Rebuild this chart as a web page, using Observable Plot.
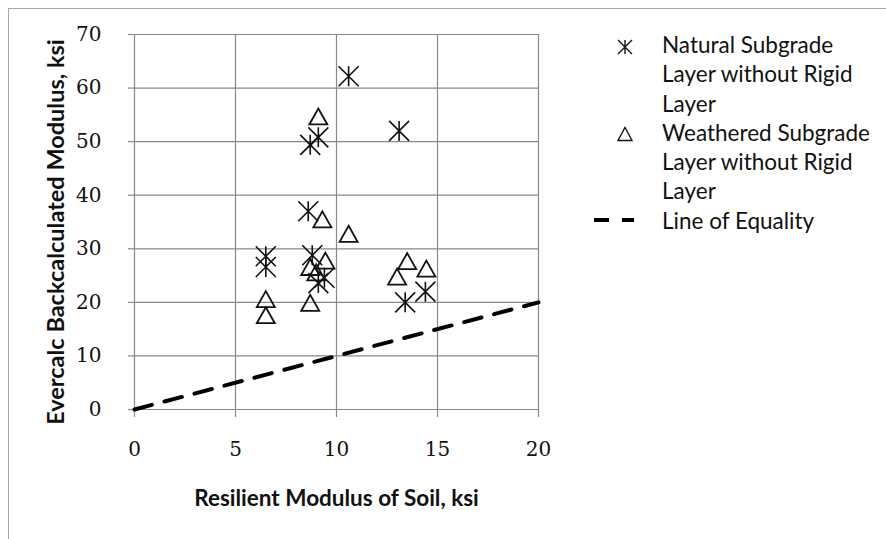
<!DOCTYPE html>
<html><head><meta charset="utf-8">
<script src="https://cdn.jsdelivr.net/npm/d3@7"></script>
<script src="https://cdn.jsdelivr.net/npm/@observablehq/plot@0.6"></script>
<style>
body{margin:0;background:#fff;}
#wrap{position:relative;width:886px;height:539px;overflow:hidden;background:#fff;}
#border{position:absolute;left:8px;top:8px;width:900px;height:600px;border-left:1px solid #a6a6a6;border-top:1px solid #a6a6a6;}
#chart{position:absolute;left:0;top:0;}
#legend{position:absolute;left:662px;top:30px;font-family:Lato, sans-serif;font-size:22.5px;line-height:29.3px;color:#111;}
.lsym{position:absolute;}
</style>
</head><body>
<div id="wrap"><div id="border"></div><div id="chart"></div><div id="legend"></div></div>
<script>
// ---- data ----
const naturalX = [10.6, 13.1, 8.7, 9.1, 8.6, 6.5, 6.5, 8.8, 9.1, 9.4, 13.4, 14.4];
const naturalY = [62.2, 52.0, 49.4, 50.8, 37.0, 28.6, 26.6, 28.8, 23.6, 24.6, 20.0, 22.0];
const weatheredX = [9.1, 9.3, 10.6, 8.7, 9.45, 9.0, 6.5, 6.5, 8.7, 13.5, 13.0, 14.45];
const weatheredY = [54.7, 35.5, 32.8, 26.6, 27.8, 25.6, 20.6, 17.6, 19.9, 27.7, 24.8, 26.3];
const equalityX = [0, 20];
const equalityY = [0, 20];
const xTicks = [0, 5, 10, 15, 20];
const yTicks = [0, 10, 20, 30, 40, 50, 60, 70];
const seriesNames = ["Natural Subgrade Layer without Rigid Layer", "Weathered Subgrade Layer without Rigid Layer", "Line of Equality"];
const legendLines = [["Natural Subgrade", "Layer without Rigid", "Layer"], ["Weathered Subgrade", "Layer without Rigid", "Layer"], ["Line of Equality"]];
const xTitle = "Resilient Modulus of Soil, ksi";
const yTitle = "Evercalc Backcalculated Modulus, ksi";

const natural = naturalX.map((x, i) => ({x, y: naturalY[i]}));
const weathered = weatheredX.map((x, i) => ({x, y: weatheredY[i]}));
const equality = equalityX.map((x, i) => ({x, y: equalityY[i]}));

// custom symbols (Excel-like star and open triangle)
function makeStar(r) { return {draw(ctx) { ctx.moveTo(0, -r); ctx.lineTo(0, r); ctx.moveTo(-r, -r); ctx.lineTo(r, r); ctx.moveTo(-r, r); ctx.lineTo(r, -r); }}; }
function makeTri(w, h) { return {draw(ctx) { ctx.moveTo(0, -h); ctx.lineTo(w, h); ctx.lineTo(-w, h); ctx.closePath(); }}; }
const starSym = makeStar(10);
const triSym = makeTri(9, 8);

const gridColor = "#898989";
const tickFont = "DejaVu Serif";
const chart = Plot.plot({
  width: 886, height: 539,
  marginLeft: 134, marginRight: 348, marginTop: 34, marginBottom: 130,
  x: {domain: [0, 20]},
  y: {domain: [0, 70]},
  style: {background: "transparent"},
  marks: [
    Plot.gridX(xTicks.slice(1), {stroke: gridColor, strokeOpacity: 1, strokeWidth: 1.2}),
    Plot.gridY(yTicks.slice(1), {stroke: gridColor, strokeOpacity: 1, strokeWidth: 1.2}),
    Plot.ruleX([0], {stroke: gridColor, strokeWidth: 1.2}),
    Plot.ruleY([0], {stroke: gridColor, strokeWidth: 1.2}),
    Plot.axisX(xTicks, {tickSize: 8, tickPadding: 24, fontSize: 20, fontFamily: tickFont, stroke: gridColor, strokeWidth: 1.2, fill: "#111", label: null}),
    Plot.axisY(yTicks, {tickSize: 6, tickPadding: 27, fontSize: 20, fontFamily: tickFont, stroke: gridColor, strokeWidth: 1.2, fill: "#111", label: null}),
    Plot.line(equality, {x: "x", y: "y", stroke: "black", strokeWidth: 4, strokeDasharray: "18,13"}),
    Plot.dot(natural, {x: "x", y: "y", symbol: starSym, stroke: "#111", strokeWidth: 1.6, fill: "none"}),
    Plot.dot(weathered, {x: "x", y: "y", symbol: triSym, stroke: "#111", strokeWidth: 1.8, fill: "none"}),
    Plot.text([xTitle], {frameAnchor: "bottom", textAnchor: "middle", dy: 89, lineAnchor: "middle", fontSize: 22.5, fontWeight: "bold", fontFamily: "Lato", fill: "#111"}),
    Plot.text([yTitle], {frameAnchor: "left", textAnchor: "middle", dx: -78, dy: 10, rotate: -90, lineAnchor: "middle", fontSize: 23.5, fontWeight: "bold", fontFamily: "Lato", fill: "#111"})
  ]
});
document.getElementById("chart").appendChild(chart);

// legend
const legend = d3.select("#legend");
legendLines.forEach((lines, i) => {
  lines.forEach(l => legend.append("div").text(l));
});
const wrap = d3.select("#wrap");
const symPos = [47, 134, 220];
[makeStar(7), makeTri(7, 6.5), null].forEach((sym, i) => {
  const s = wrap.append("svg").attr("class", "lsym").attr("width", 60).attr("height", 30)
    .style("left", "594px").style("top", (symPos[i] - 15) + "px")
    .attr("aria-label", seriesNames[i]);
  if (sym) {
    const p = d3.path(); sym.draw(p);
    s.append("path").attr("d", p.toString()).attr("transform", "translate(31,15)")
      .attr("fill", "none").attr("stroke", "#111").attr("stroke-width", 1.4);
  } else {
    s.append("line").attr("x1", 0).attr("x2", 40).attr("y1", 15).attr("y2", 15)
      .attr("stroke", "black").attr("stroke-width", 4).attr("stroke-dasharray", "15,13");
  }
});
</script>
</body></html>
